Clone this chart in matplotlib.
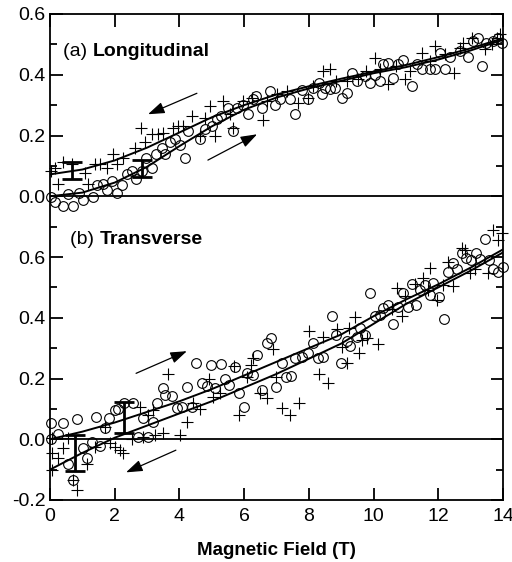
import numpy as np
import matplotlib.pyplot as plt

plt.rcParams['font.family'] = ['Liberation Sans', 'DejaVu Sans']

# offset used to stack panel (a) above panel (b) in one frame
offset = 0.8

# (a) Longitudinal: open circles (up sweep) and crosses (down sweep)
long_circ = np.array([
    (0.02, -0.003), (0.15, -0.02), (0.4, -0.033), (0.56, 0.007), (0.72, -0.033),
    (0.9, 0.01), (1.03, -0.013), (1.32, -0.003), (1.45, 0.036), (1.63, 0.04),
    (1.77, 0.02), (1.93, 0.05), (2.08, 0.01), (2.22, 0.036), (2.37, 0.072),
    (2.52, 0.082), (2.66, 0.056), (2.83, 0.082), (2.98, 0.125), (3.14, 0.092),
    (3.28, 0.138), (3.45, 0.158), (3.55, 0.138), (3.71, 0.18), (3.86, 0.19),
    (4.02, 0.17), (4.18, 0.125), (4.27, 0.214), (4.63, 0.19), (4.79, 0.22),
    (5.0, 0.23), (5.15, 0.253), (5.3, 0.264), (5.5, 0.29), (5.66, 0.214),
    (5.79, 0.29), (5.97, 0.30), (6.13, 0.27), (6.27, 0.32), (6.38, 0.33),
    (6.54, 0.29), (6.8, 0.346), (6.95, 0.30), (7.1, 0.32), (7.42, 0.32),
    (7.57, 0.27), (7.78, 0.35), (7.98, 0.32), (8.14, 0.356), (8.3, 0.373),
    (8.4, 0.336), (8.5, 0.356), (8.65, 0.353), (8.8, 0.356), (9.02, 0.323),
    (9.17, 0.34), (9.32, 0.405), (9.48, 0.379), (9.73, 0.395), (9.89, 0.373),
    (10.04, 0.40), (10.2, 0.379), (10.3, 0.435), (10.45, 0.44), (10.6, 0.39),
    (10.76, 0.435), (10.92, 0.45), (11.18, 0.362), (11.33, 0.435), (11.49, 0.42),
    (11.74, 0.42), (11.9, 0.418), (12.05, 0.47), (12.2, 0.418), (12.36, 0.46),
    (12.67, 0.478), (12.92, 0.46), (13.08, 0.51), (13.23, 0.52), (13.34, 0.428),
    (13.49, 0.505), (13.7, 0.51), (13.85, 0.52), (13.96, 0.505)])

long_plus = np.array([
    (0.03, 0.082), (0.15, 0.092), (0.25, 0.04), (0.4, 0.112), (0.67, 0.105),
    (1.08, 0.076), (1.18, 0.04), (1.39, 0.105), (1.55, 0.105), (1.75, 0.092),
    (1.94, 0.138), (2.06, 0.105), (2.26, 0.125), (2.63, 0.158), (2.81, 0.224),
    (2.94, 0.18), (3.14, 0.204), (3.35, 0.204), (3.5, 0.208), (3.81, 0.224),
    (3.96, 0.23), (4.12, 0.23), (4.38, 0.264), (4.64, 0.198), (4.79, 0.257),
    (4.94, 0.297), (5.1, 0.198), (5.36, 0.313), (5.56, 0.27), (5.66, 0.224),
    (5.97, 0.313), (6.23, 0.323), (6.59, 0.25), (6.7, 0.313), (7.0, 0.336),
    (7.32, 0.346), (7.67, 0.306), (7.98, 0.323), (8.14, 0.362), (8.45, 0.412),
    (8.65, 0.418), (8.85, 0.379), (9.17, 0.379), (9.53, 0.385), (9.78, 0.412),
    (10.05, 0.455), (10.2, 0.42), (10.45, 0.369), (10.7, 0.428), (10.97, 0.385),
    (11.12, 0.412), (11.49, 0.47), (11.74, 0.445), (11.9, 0.494), (12.2, 0.468),
    (12.5, 0.405), (12.67, 0.488), (12.77, 0.505), (13.04, 0.52), (13.44, 0.484),
    (13.65, 0.5), (13.8, 0.52), (13.9, 0.534)])

# (b) Transverse
trans_circ = np.array([
    (0.02, 0.053), (0.03, 0.0), (0.25, 0.016), (0.4, 0.053), (0.84, 0.066),
    (1.02, -0.03), (1.15, -0.063), (0.56, -0.082), (0.72, -0.135), (1.3, -0.01),
    (1.55, -0.023), (1.42, 0.072), (1.7, 0.036), (1.83, 0.069), (2.0, 0.095),
    (2.1, 0.099), (2.29, 0.119), (2.58, 0.119), (2.73, 0.007), (2.88, 0.069),
    (3.02, 0.007), (3.19, 0.056), (3.32, 0.119), (3.48, 0.168), (3.55, 0.145),
    (3.76, 0.142), (3.92, 0.102), (4.08, 0.105), (4.22, 0.171), (4.38, 0.105),
    (4.52, 0.25), (4.69, 0.185), (4.84, 0.175), (4.97, 0.244), (5.1, 0.168),
    (5.27, 0.247), (5.41, 0.20), (5.54, 0.178), (5.72, 0.237), (5.85, 0.152),
    (6.0, 0.105), (6.1, 0.217), (6.28, 0.211), (6.4, 0.277), (6.54, 0.161),
    (6.7, 0.316), (6.82, 0.333), (6.98, 0.171), (7.16, 0.25), (7.29, 0.204),
    (7.44, 0.207), (7.57, 0.267), (7.78, 0.27), (7.98, 0.283), (8.14, 0.316),
    (8.29, 0.267), (8.43, 0.27), (8.71, 0.405), (8.84, 0.343), (9.0, 0.25),
    (9.17, 0.323), (9.27, 0.306), (9.48, 0.336), (9.58, 0.366), (9.73, 0.343),
    (9.89, 0.481), (10.04, 0.405), (10.2, 0.409), (10.3, 0.431), (10.45, 0.441),
    (10.6, 0.379), (10.76, 0.435), (10.92, 0.481), (11.07, 0.435), (11.18, 0.511),
    (11.3, 0.441), (11.43, 0.491), (11.59, 0.507), (11.74, 0.474), (11.85, 0.514),
    (12.03, 0.468), (12.18, 0.395), (12.3, 0.55), (12.46, 0.58), (12.58, 0.56),
    (12.73, 0.613), (12.86, 0.596), (13.0, 0.59), (13.18, 0.613), (13.29, 0.593),
    (13.44, 0.659), (13.57, 0.59), (13.7, 0.56), (13.85, 0.55), (14.0, 0.567)])

trans_plus = np.array([
    (0.07, 0.003), (0.06, -0.046), (0.06, -0.102), (0.25, -0.063), (0.4, -0.03),
    (0.56, 0.003), (0.72, -0.135), (0.84, -0.168), (1.15, -0.08), (1.39, -0.026),
    (1.7, 0.04), (1.85, -0.013), (2.0, -0.026), (2.16, -0.036), (2.26, -0.046),
    (2.53, 0.0), (2.78, 0.105), (2.88, 0.007), (3.03, 0.079), (3.18, 0.096),
    (3.24, 0.013), (3.49, 0.02), (3.65, 0.214), (4.02, 0.013), (4.23, 0.056),
    (4.41, 0.119), (4.63, 0.099), (4.92, 0.2), (5.05, 0.138), (5.25, 0.152),
    (5.69, 0.24), (5.85, 0.079), (6.08, 0.204), (6.2, 0.244), (6.28, 0.267),
    (6.49, 0.152), (6.7, 0.135), (6.89, 0.297), (6.98, 0.204), (7.16, 0.102),
    (7.42, 0.079), (7.7, 0.119), (8.0, 0.356), (8.32, 0.214), (8.43, 0.336),
    (8.6, 0.185), (8.86, 0.362), (9.02, 0.303), (9.17, 0.25), (9.25, 0.366),
    (9.43, 0.402), (9.55, 0.283), (9.63, 0.326), (9.79, 0.333), (10.14, 0.313),
    (10.56, 0.428), (10.72, 0.498), (10.87, 0.405), (10.97, 0.471), (11.28, 0.511),
    (11.53, 0.53), (11.68, 0.491), (11.74, 0.563), (11.95, 0.458), (12.15, 0.507),
    (12.3, 0.583), (12.46, 0.504), (12.73, 0.629), (12.82, 0.623), (12.98, 0.547),
    (13.13, 0.56), (13.54, 0.547), (13.7, 0.689), (13.85, 0.656), (13.96, 0.679)])

# fitted curves, every 1 T
fit_b = np.arange(0, 15)
long_fit_up = [0.0, 0.012, 0.045, 0.097, 0.165, 0.23, 0.285, 0.325, 0.355,
               0.38, 0.405, 0.425, 0.45, 0.48, 0.515]
long_fit_down = [0.072, 0.088, 0.118, 0.16, 0.21, 0.26, 0.3, 0.335, 0.362,
                 0.387, 0.41, 0.432, 0.458, 0.487, 0.52]
trans_fit_up = [0.0, 0.025, 0.055, 0.09, 0.125, 0.165, 0.21, 0.255, 0.30,
                0.345, 0.405, 0.46, 0.51, 0.565, 0.625]
trans_fit_down = [-0.1, -0.045, 0.005, 0.045, 0.085, 0.125, 0.17, 0.215,
                  0.265, 0.315, 0.38, 0.445, 0.50, 0.555, 0.615]

# error bars (x, centre, half width)
long_err = [(0.68, 0.085, 0.027), (2.84, 0.09, 0.028)]
trans_err = [(0.77, -0.046, 0.059), (2.29, 0.071, 0.051)]

ytick_pos = [-0.2, 0.0, 0.2, 0.4, 0.6, 0.8, 1.0, 1.2, 1.4]
ytick_lab = ['-0.2', '0.0', '0.2', '0.4', '0.6', '0.0', '0.2', '0.4', '0.6']

fig = plt.figure(figsize=(5.12, 5.62), dpi=100)
ax = fig.add_axes([50/512, 62/562, 453/512, 486/562])

mk = dict(linestyle='none', color='black', markerfacecolor='none',
          markeredgewidth=0.8, clip_on=False)
ax.plot(long_circ[:, 0], long_circ[:, 1] + offset, marker='o', markersize=7, **mk)
ax.plot(long_plus[:, 0], long_plus[:, 1] + offset, marker='+', markersize=8, **mk)
ax.plot(trans_circ[:, 0], trans_circ[:, 1], marker='o', markersize=7, **mk)
ax.plot(trans_plus[:, 0], trans_plus[:, 1], marker='+', markersize=8, **mk)

ax.plot(fit_b, np.array(long_fit_up) + offset, color='black', lw=1.4)
ax.plot(fit_b, np.array(long_fit_down) + offset, color='black', lw=1.4)
ax.plot(fit_b, trans_fit_up, color='black', lw=1.4)
ax.plot(fit_b, trans_fit_down, color='black', lw=1.4)

for xe, ye, de in long_err:
    ax.errorbar(xe, ye + offset, yerr=de, color='black', elinewidth=2,
                capsize=7, capthick=2)
for xe, ye, de in trans_err:
    ax.errorbar(xe, ye, yerr=de, color='black', elinewidth=2,
                capsize=7, capthick=2)

ax.axhline(0.0, color='black', lw=1.3)
ax.axhline(offset, color='black', lw=1.3)

arr = dict(arrowstyle='-|>,head_length=1.0,head_width=0.35', color='black',
           lw=0.9, shrinkA=0, shrinkB=0)
ax.annotate('', xy=(3.03, 0.27 + offset), xytext=(4.54, 0.339 + offset), arrowprops=arr)
ax.annotate('', xy=(6.4, 0.204 + offset), xytext=(4.88, 0.119 + offset), arrowprops=arr)
ax.annotate('', xy=(4.23, 0.29), xytext=(2.66, 0.217), arrowprops=arr)
ax.annotate('', xy=(2.35, -0.109), xytext=(3.89, -0.036), arrowprops=arr)

t = ax.text(0.4, 0.478 + offset, '(a) ', fontsize=14, va='center')
ax.annotate('Longitudinal', xy=(1, 0.5), xycoords=t, va='center',
            fontsize=14, fontweight='bold')
t = ax.text(0.62, 0.656, '(b) ', fontsize=14, va='center')
ax.annotate('Transverse', xy=(1, 0.5), xycoords=t, va='center',
            fontsize=14, fontweight='bold')

ax.set_xlim(0, 14)
ax.set_ylim(-0.2, 1.4)
ax.set_xticks(np.arange(0, 15, 2))
ax.set_yticks(ytick_pos)
ax.set_yticklabels(ytick_lab)
ax.yaxis.set_minor_locator(plt.MultipleLocator(0.1))
ax.tick_params(which='both', direction='in', top=True, right=True,
               labelsize=14, width=1.3)
ax.tick_params(which='major', length=9)
ax.tick_params(axis='x', pad=6)
ax.tick_params(axis='y', pad=3)
ax.tick_params(which='minor', length=5)
for s in ax.spines.values():
    s.set_linewidth(1.3)
ax.set_xlabel('Magnetic Field (T)', fontsize=13.5, fontweight='bold', labelpad=12)

plt.savefig('out.png', dpi=100)
